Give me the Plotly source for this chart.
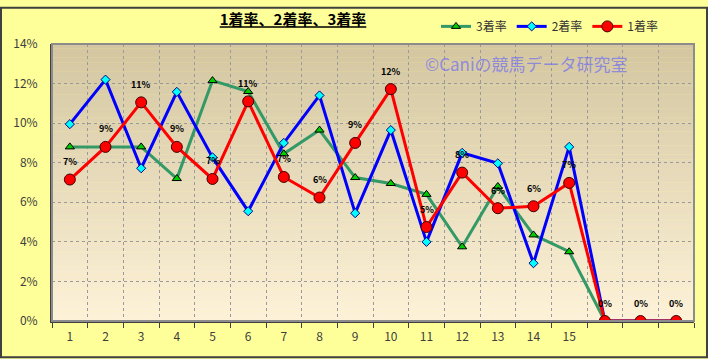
import plotly.graph_objects as go

positions = list(range(1, 19))
tick_labels = [str(i) for i in range(1, 16)] + ["", "", ""]

rate3 = [8.8, 8.8, 8.8, 7.2, 12.15, 11.6, 8.45, 9.65, 7.25, 6.95, 6.4, 3.75, 6.8, 4.35, 3.5, 0, 0, 0]
rate2 = [9.95, 12.2, 7.72, 11.58, 8.27, 5.55, 9.0, 11.4, 5.45, 9.65, 4.0, 8.5, 7.97, 2.92, 8.8, 0, 0, 0]
rate1 = [7.15, 8.8, 11.05, 8.8, 7.18, 11.1, 7.28, 6.24, 9.0, 11.72, 4.75, 7.5, 5.7, 5.8, 6.98, 0, 0, 0]
label1 = ["7%", "9%", "11%", "9%", "7%", "11%", "7%", "6%", "9%", "12%", "5%", "8%", "6%", "6%", "7%", "0%", "0%", "0%"]

W, H = 708, 359
ML, MR, MT, MB = 52, 14, 38, 38
PW, PH = W - ML - MR, H - MT - MB

FONT = "Noto Sans CJK JP"

fig = go.Figure()
fig.add_trace(go.Scatter(
    x=positions, y=rate3, name="3着率", mode="lines+markers",
    line=dict(color="#339966", width=3),
    marker=dict(symbol="triangle-up", size=8, color="#00CC00", line=dict(color="#000000", width=1)),
))
fig.add_trace(go.Scatter(
    x=positions, y=rate2, name="2着率", mode="lines+markers",
    line=dict(color="#0000FF", width=3),
    marker=dict(symbol="diamond", size=7, color="#00FFFF", line=dict(color="#000080", width=1)),
))
fig.add_trace(go.Scatter(
    x=positions, y=rate1, name="1着率", mode="lines+markers",
    line=dict(color="#FF0000", width=3),
    marker=dict(symbol="circle", size=11, color="#FF0000", line=dict(color="#400000", width=1)),
))

# gradient plot background
top = (211, 198, 160)
bot = (253, 241, 216)
N = 60
shapes = []
for i in range(N):
    t = i / (N - 1)
    c = tuple(round(top[k] + (bot[k] - top[k]) * t) for k in range(3))
    shapes.append(dict(type="rect", xref="x domain", yref="y domain",
                       x0=0, x1=1, y0=1 - (i + 1) / N, y1=1 - i / N + 0.001,
                       fillcolor="rgb(%d,%d,%d)" % c, line=dict(width=0), layer="below"))
# plot area border (gray top/right)
shapes.append(dict(type="rect", xref="paper", yref="paper", x0=0, x1=1, y0=0, y1=1,
                   line=dict(color="#8C8C8C", width=2), layer="above"))
# outer image border
shapes.append(dict(type="rect", xref="paper", yref="paper",
                   x0=-(ML - 1) / PW, x1=1 + (MR - 1) / PW,
                   y0=-(MB - 1) / PH, y1=1 + (MT - 1) / PH,
                   line=dict(color="#404040", width=2), layer="above"))

annotations = []
for xv, yv, t in zip(positions, rate1, label1):
    annotations.append(dict(x=xv, y=yv, text="<b>%s</b>" % t, showarrow=False,
                            yshift=18, font=dict(family=FONT, size=9, color="#000000")))
annotations.append(dict(xref="paper", yref="paper", x=(526 - ML) / PW, y=1 - (58 - MT) / PH,
                        xanchor="center", yanchor="middle",
                        text="©Caniの競馬データ研究室", showarrow=False,
                        font=dict(family=FONT, size=17, color="rgba(110,110,240,0.7)")))

fig.update_layout(
    width=W, height=H,
    margin=dict(l=ML, r=MR, t=MT, b=MB),
    paper_bgcolor="#FFFF99",
    plot_bgcolor="rgba(0,0,0,0)",
    title=dict(text="<b><u>1着率、2着率、3着率</u></b>", xref="container", yref="container",
               x=293 / W, y=1 - 20 / H, xanchor="center", yanchor="middle",
               font=dict(family=FONT, size=15, color="#000000")),
    legend=dict(orientation="h", xref="paper", yref="paper",
                x=(664 - ML) / PW, y=1 + (MT - 20) / PH, xanchor="right", yanchor="middle",
                font=dict(family=FONT, size=12, color="#333333"),
                bgcolor="rgba(0,0,0,0)", itemwidth=30, traceorder="normal"),
    showlegend=True,
    shapes=shapes,
    annotations=annotations,
    xaxis=dict(range=[0.5, 18.5], tickmode="array", tickvals=positions, ticktext=tick_labels,
               showgrid=False, ticks="", zeroline=False,
               showline=True, linecolor="#404040", linewidth=2,
               tickfont=dict(family=FONT, size=12, color="#404040"),
               ticklabelstandoff=4,
               minor=dict(tickmode="linear", tick0=0.5, dtick=1, showgrid=True,
                          gridcolor="#9A9A9A", griddash="dot", gridwidth=1,
                          ticks="outside", ticklen=5, tickcolor="#404040", tickwidth=1)),
    yaxis=dict(range=[0, 14], dtick=2, ticksuffix="%", showgrid=True,
               gridcolor="#9A9A9A", griddash="dot", gridwidth=1, zeroline=False,
               showline=True, linecolor="#404040", linewidth=2, ticks="",
               ticklabelstandoff=10,
               tickfont=dict(family=FONT, size=12, color="#404040")),
)

fig.write_html("out.html")
